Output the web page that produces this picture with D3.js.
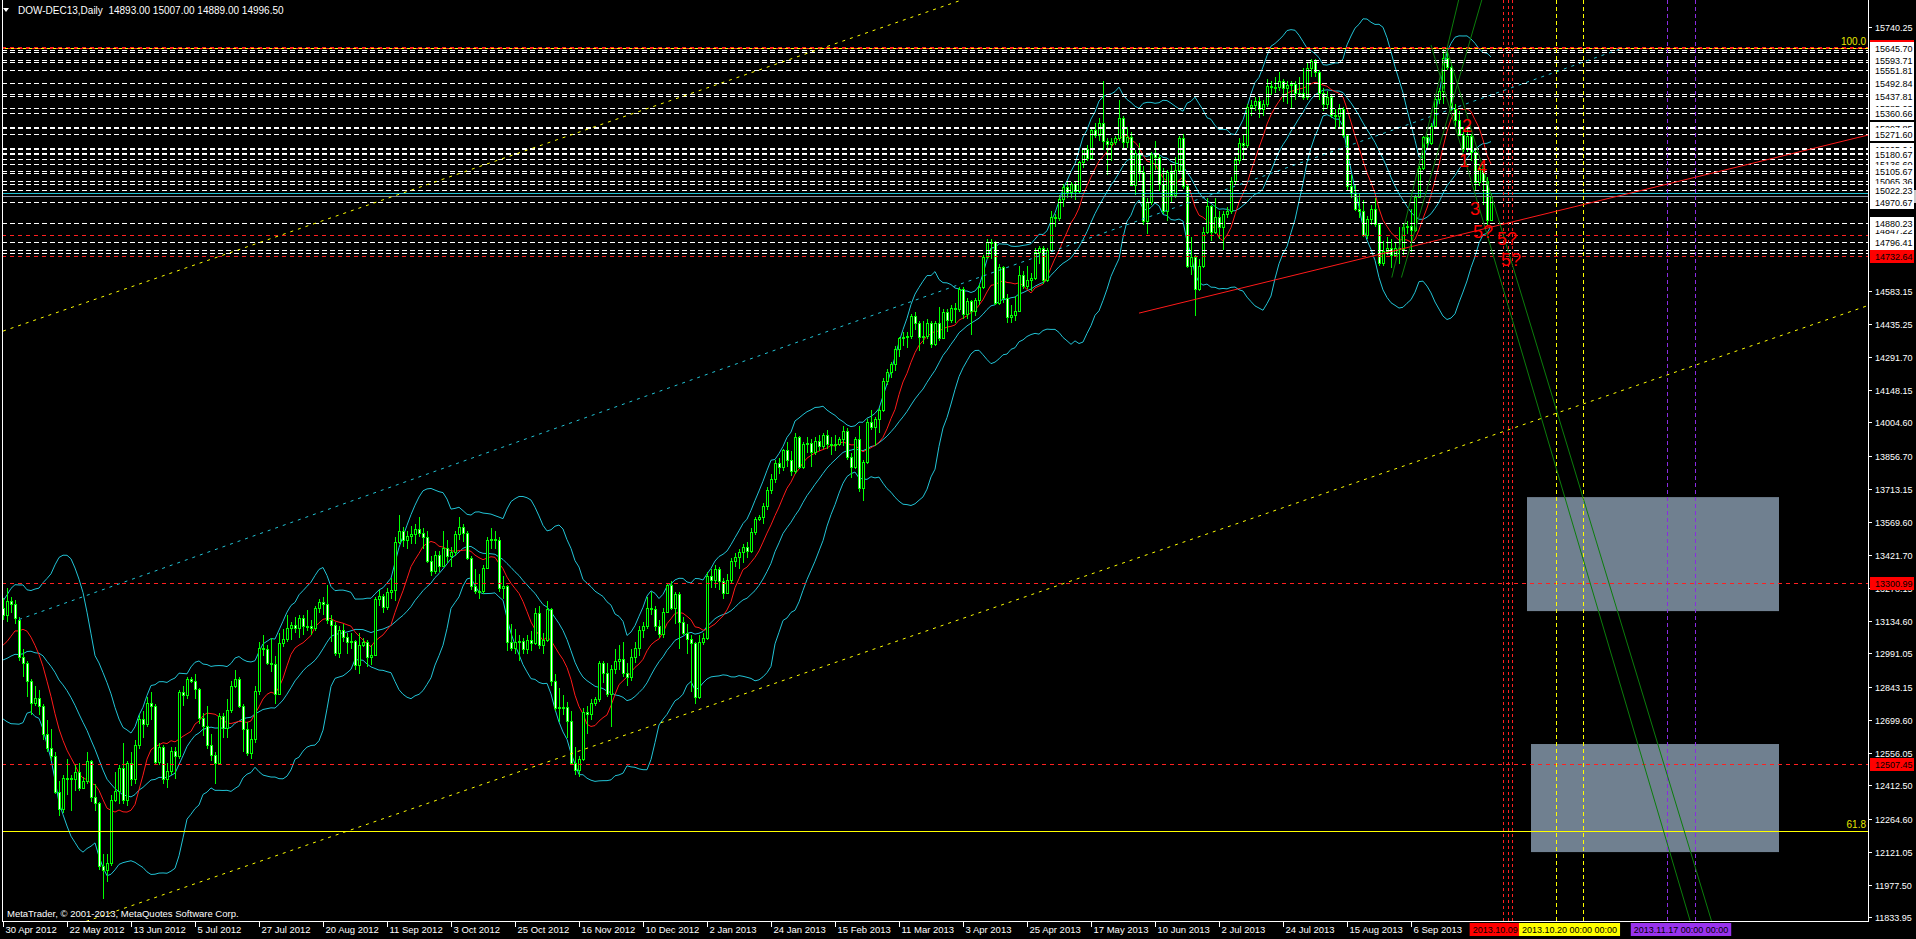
<!DOCTYPE html>
<html><head><meta charset="utf-8">
<script src="https://cdn.jsdelivr.net/npm/d3@7/dist/d3.min.js"></script>
<style>
html,body{margin:0;padding:0;background:#000;overflow:hidden}
svg{display:block}
text{font-family:"Liberation Sans",Arial,sans-serif}
</style></head><body>
<svg id="c" width="1916" height="939"></svg>
<script>
// ---------------- DATA ----------------
const headerText = "DOW-DEC13,Daily";
const lastBar = [14893.00, 15007.00, 14889.00, 14996.50];
const copyright = "MetaTrader, \u00A9 2001-2013, MetaQuotes Software Corp.";
const dateLabels = ["30 Apr 2012","22 May 2012","13 Jun 2012","5 Jul 2012","27 Jul 2012","20 Aug 2012","11 Sep 2012","3 Oct 2012","25 Oct 2012","16 Nov 2012","10 Dec 2012","2 Jan 2013","24 Jan 2013","15 Feb 2013","11 Mar 2013","3 Apr 2013","25 Apr 2013","17 May 2013","10 Jun 2013","2 Jul 2013","24 Jul 2013","15 Aug 2013","6 Sep 2013"];
const barsPerLabel = 16;
const yTicks = [15740.25,14583.15,14435.25,14291.70,14148.15,14004.60,13856.70,13713.15,13569.60,13421.70,13278.15,13134.60,12991.05,12843.15,12699.60,12556.05,12412.50,12264.60,12121.05,11977.50,11833.95];
// closes before the first visible bar (indicator warm-up)
const priorCloses = [13150,13080,13010,12990,13000,12880,12670,12750,12930,12800,12870,13060,12980,12910,12975,12880,12950,13040,13150,13170];
// daily bars [open, high, low, close]
const ohlc = [
[13190,13235,13140,13160],[13160,13280,13130,13220],[13220,13240,13170,13210],[13210,13225,13120,13145],[13140,13150,12960,12975],
[12975,13010,12890,12950],[12950,12960,12800,12870],[12870,12880,12720,12775],[12775,12850,12760,12795],[12795,12830,12720,12760],
[12760,12770,12610,12640],[12640,12700,12560,12575],[12575,12660,12520,12540],[12540,12560,12375,12385],[12385,12430,12280,12310],
[12310,12460,12290,12445],[12445,12530,12370,12445],[12445,12460,12300,12440],[12440,12500,12390,12470],[12470,12510,12390,12400],
[12400,12450,12395,12430],[12430,12560,12420,12520],[12520,12525,12340,12360],[12360,12420,12300,12335],[12335,12340,12040,12060],
[12060,12110,11915,12040],[12040,12110,11990,12070],[12070,12370,12060,12350],[12350,12470,12340,12390],[12390,12500,12330,12490],
[12490,12600,12330,12350],[12350,12520,12320,12510],[12510,12560,12410,12440],[12440,12610,12420,12590],[12590,12720,12570,12705],
[12705,12740,12620,12680],[12680,12800,12670,12775],[12775,12820,12700,12760],[12760,12770,12500,12515],[12515,12600,12500,12580],
[12580,12590,12420,12440],[12440,12510,12400,12475],[12475,12580,12460,12565],[12565,12580,12440,12540],[12540,12830,12530,12820],
[12820,12850,12760,12810],[12810,12890,12790,12880],[12880,12890,12860,12870],[12870,12900,12790,12835],[12835,12840,12680,12710],
[12710,12730,12630,12675],[12675,12760,12570,12590],[12590,12640,12520,12545],[12545,12560,12420,12510],[12510,12730,12500,12715],
[12715,12730,12620,12665],[12665,12790,12620,12745],[12745,12870,12730,12850],[12850,12920,12840,12880],[12880,12890,12750,12760],
[12760,12770,12560,12660],[12660,12690,12540,12555],[12555,12660,12530,12615],[12615,12850,12600,12825],[12825,13040,12810,13015],
[13015,13070,12980,13010],[13010,13030,12940,12950],[12950,13060,12910,12945],[12945,12980,12770,12815],[12815,13080,12810,13035],
[13035,13100,13020,13055],[13055,13160,13040,13105],[13105,13130,13050,13115],[13115,13150,13080,13105],[13105,13160,13060,13145],
[13145,13160,13070,13110],[13110,13180,13090,13110],[13110,13140,13070,13105],[13105,13200,13090,13190],[13190,13230,13170,13215],
[13215,13240,13160,13210],[13210,13290,13120,13140],[13140,13160,13040,13115],[13115,13130,12980,12995],[12995,13110,12970,13095],
[13095,13120,13040,13065],[13065,13080,12990,13040],[13040,13080,13010,13045],[13045,13050,12920,12940],[12940,13080,12900,13030],
[13030,13060,13020,13040],[13040,13050,12930,12975],[12975,13030,12940,12985],[12985,13240,12980,13230],[13230,13270,13200,13245],
[13245,13250,13170,13195],[13195,13280,13180,13260],[13260,13320,13230,13270],[13270,13500,13220,13480],[13480,13600,13470,13530],
[13530,13545,13460,13490],[13490,13530,13450,13505],[13505,13550,13470,13515],[13515,13560,13470,13535],[13535,13590,13500,13520],
[13520,13540,13450,13500],[13500,13530,13390,13395],[13395,13420,13330,13355],[13355,13440,13340,13425],[13425,13440,13350,13375],
[13375,13530,13370,13455],[13455,13490,13390,13420],[13420,13460,13370,13435],[13435,13530,13420,13515],[13515,13590,13490,13545],
[13545,13560,13480,13520],[13520,13530,13400,13410],[13410,13420,13270,13285],[13285,13360,13250,13265],[13265,13340,13230,13265],
[13265,13380,13250,13365],[13365,13500,13360,13490],[13490,13540,13450,13495],[13495,13530,13450,13490],[13490,13500,13260,13280],
[13280,13330,13230,13285],[13285,13290,13000,13040],[13040,13120,13000,13015],[13015,13100,12990,13040],[13040,13070,12960,13045],
[13045,13060,12990,13010],[13010,13070,12990,13050],[13050,13090,13000,13035],[13035,13190,13030,13170],[13170,13200,13010,13030],
[13030,13080,12990,13050],[13050,13220,13040,13185],[13185,13190,12850,12870],[12870,12900,12740,12750],[12750,12840,12690,12755],
[12755,12810,12720,12755],[12755,12780,12620,12695],[12695,12740,12500,12510],[12510,12580,12460,12480],[12480,12540,12450,12530],
[12530,12750,12520,12735],[12735,12760,12640,12725],[12725,12790,12700,12775],[12775,12800,12760,12790],[12790,12960,12780,12950],
[12950,12960,12860,12905],[12905,12950,12800,12815],[12815,12940,12670,12925],[12925,13010,12900,12960],[12960,13030,12920,12965],
[12965,13040,12890,12905],[12905,12950,12850,12890],[12890,13010,12870,12975],[12975,13040,12950,13015],[13015,13110,12980,13095],
[13095,13130,13060,13110],[13110,13240,13100,13190],[13190,13260,13160,13185],[13185,13200,13090,13110],[13110,13140,13060,13075],
[13075,13190,13060,13175],[13175,13300,13170,13290],[13290,13310,13180,13190],[13190,13260,13120,13250],[13250,13260,13010,13130],
[13130,13150,13070,13080],[13080,13120,12990,13055],[13055,13070,12820,13035],[13035,13040,12770,12800],[12800,13070,12790,13040],
[13040,13080,13030,13060],[13060,13350,13050,13330],[13330,13360,13280,13315],[13315,13380,13280,13360],[13360,13370,13270,13310],
[13310,13320,13230,13255],[13255,13340,13250,13315],[13315,13410,13300,13395],[13395,13430,13370,13415],[13415,13450,13360,13435],
[13435,13470,13390,13460],[13460,13480,13410,13440],[13440,13540,13430,13525],[13525,13590,13510,13580],[13580,13600,13570,13590],
[13590,13650,13560,13640],[13640,13720,13620,13710],[13710,13780,13690,13755],[13755,13840,13740,13825],[13825,13850,13780,13810],
[13810,13890,13790,13885],[13885,13920,13810,13840],[13840,13880,13770,13790],[13790,13960,13780,13940],[13940,13945,13800,13810],
[13810,13920,13800,13910],[13910,13940,13870,13915],[13915,13930,13810,13875],[13875,13940,13860,13925],[13925,13950,13880,13900],
[13900,13960,13890,13950],[13950,13970,13890,13910],[13910,13940,13860,13905],[13905,13950,13880,13910],[13910,13940,13900,13930],
[13930,13990,13900,13965],[13965,13980,13840,13855],[13855,13870,13760,13810],[13810,13940,13800,13930],[13930,13990,13700,13715],
[13715,13840,13660,13830],[13830,14020,13820,14005],[14005,14060,13970,13985],[13985,14030,13900,14020],[14020,14070,13960,14060],
[14060,14200,14050,14185],[14185,14240,14170,14225],[14225,14270,14200,14260],[14260,14340,14230,14325],[14325,14380,14290,14375],
[14375,14400,14340,14380],[14380,14400,14330,14385],[14385,14480,14370,14470],[14470,14490,14410,14440],[14440,14450,14320,14380],
[14380,14450,14350,14385],[14385,14460,14370,14440],[14440,14450,14330,14350],[14350,14450,14340,14440],[14440,14510,14360,14375],
[14375,14500,14370,14490],[14490,14500,14400,14455],[14455,14520,14440,14505],[14505,14530,14440,14500],[14500,14600,14490,14590],
[14590,14600,14460,14480],[14480,14550,14460,14535],[14535,14540,14390,14495],[14495,14550,14470,14540],[14540,14610,14520,14600],
[14600,14740,14590,14730],[14730,14810,14720,14795],[14795,14810,14720,14795],[14795,14800,14520,14530],[14530,14700,14520,14685],
[14685,14690,14530,14550],[14550,14570,14440,14465],[14465,14520,14440,14475],[14475,14560,14450,14495],[14495,14690,14490,14650],
[14650,14670,14590,14605],[14605,14690,14590,14630],[14630,14660,14580,14640],[14640,14770,14630,14750],[14750,14780,14700,14770],
[14770,14780,14610,14630],[14630,14770,14620,14760],[14760,14930,14750,14905],[14905,14920,14860,14900],[14900,15000,14890,14985],
[14985,15050,14950,15035],[15035,15060,14990,15015],[15015,15060,14990,15050],[15050,15060,14980,15020],[15020,15150,15010,15145],
[15145,15210,15120,15205],[15205,15220,15150,15165],[15165,15290,15160,15285],[15285,15320,15250,15265],[15265,15340,15240,15320],
[15320,15500,15200,15240],[15240,15250,15090,15225],[15225,15250,15150,15235],[15235,15260,15220,15250],[15250,15420,15240,15340],
[15340,15350,15200,15235],[15235,15300,15210,15255],[15255,15280,15040,15045],[15045,15200,15000,15185],[15185,15230,15060,15105],
[15105,15130,14870,14890],[14890,14990,14830,14970],[14970,15190,14960,15180],[15180,15240,15110,15170],[15170,15180,15020,15050],
[15050,15120,14920,14930],[14930,15110,14890,15105],[15105,15140,14970,15000],[15000,15170,14990,15110],[15110,15260,15100,15250],
[15250,15270,15030,15040],[15040,15050,14680,14690],[14690,14820,14650,14730],[14730,14740,14470,14590],[14590,14720,14580,14690],
[14690,14860,14680,14840],[14840,14990,14830,14955],[14955,14960,14800,14840],[14840,14990,14830,14905],[14905,14930,14810,14860],
[14860,14930,14760,14920],[14920,14950,14900,14930],[14930,15080,14920,15065],[15065,15170,15050,15155],[15155,15250,15140,15230],
[15230,15270,15160,15220],[15220,15400,15210,15390],[15390,15420,15350,15395],[15395,15430,15370,15415],[15415,15430,15340,15380],
[15380,15420,15350,15400],[15400,15510,15390,15480],[15480,15500,15440,15475],[15475,15520,15450,15475],[15475,15540,15460,15500],
[15500,15510,15410,15470],[15470,15500,15400,15485],[15485,15500,15380,15490],[15490,15500,15420,15450],[15450,15520,15430,15450],
[15450,15560,15420,15430],[15430,15580,15420,15560],[15560,15600,15520,15590],[15590,15600,15520,15540],[15540,15550,15420,15450],
[15450,15470,15370,15400],[15400,15460,15380,15430],[15430,15440,15340,15355],[15355,15380,15290,15350],[15350,15400,15290,15380],
[15380,15390,15250,15265],[15265,15270,15020,15040],[15040,15090,14990,15010],[15010,15050,14930,14940],[14940,15010,14900,14930],
[14930,14980,14820,14825],[14825,14910,14810,14895],[14895,14960,14870,14940],[14940,14990,14860,14875],[14875,14880,14690,14705],
[14705,14800,14690,14755],[14755,14820,14740,14770],[14770,14810,14680,14740],[14740,14790,14730,14770],[14770,14860,14700,14765],
[14765,14880,14740,14860],[14860,14890,14830,14865],[14865,14940,14750,14850],[14850,15000,14840,14995],[14995,15130,14990,15120],
[15120,15260,15110,15255],[15255,15270,15200,15230],[15230,15320,15220,15305],[15305,15440,15300,15425],[15425,15470,15400,15460],
[15460,15645,15400,15605],[15605,15630,15550,15565],[15565,15580,15370,15380],[15380,15400,15300,15330],[15330,15370,15260,15265],
[15265,15300,15190,15205],[15205,15290,15190,15260],[15260,15270,15150,15190],[15190,15200,15020,15060],[15060,15140,15040,15120],
[15120,15140,14960,15065],[15065,15080,14870,14893],[14893,15007,14889,14996.5]
];
// horizontal levels
const whiteLevels = [15636,15631,15593.71,15585,15551.81,15492.84,15445,15437.81,15385.03,15360.66,15302,15297.85,15271.60,15210,15205.04,15185,15180.67,15160,15136.60,15105.67,15098,15065.36,15050,15022.23,14970.67,14880.23,14796.41,14760,14748.85];
const redLevels = [15650,14825,14732.64,13300.99,12507.45];
const cyanLevel = 15010;
const bidLevel = 14996.50;
const fibLevels = [15645.70, 12212.6];
const fibNames = ["100.0", "61.8"];
// axis price labels of the lines: [value, colour key]
const hiddenLabels = [[15655.00,"r"],[15593.71,"w"],[15385.03,"w"],[15297.85,"w"],[15205.04,"w"],[14996.50,"g"],[14847.22,"w"],[14748.85,"w"]];
const shownLabels = [[15645.70,"w"],[15551.81,"w"],[15492.84,"w"],[15437.81,"w"],[15360.66,"w"],[15271.60,"w"],[15180.67,"w"],[15136.60,"w"],[15105.67,"w"],[15065.36,"w"],[15022.23,"w"],[14970.67,"w"],[14880.23,"w"],[14796.41,"w"],[14732.64,"r"],[13300.99,"r"],[12507.45,"r"]];
// vertical lines (bar index, future bars included)
const redVLines = [375.1, 376.2, 377.2];
const yellowVLines = [388.25, 395];
const purpleVLines = [416, 423];
const timeBoxes = [["2013.10.09 00:00","r"],["2013.10.20 00:00  00:00","y"],["2013.11.17 00:00  00:00","p"]];
// rectangles [i0, i1, priceTop, priceBottom]
const zones = [[381, 444, 13677, 13177],[382, 444, 12594, 12120]];
// trend lines [[i,p],[i,p]]
const yellowChannel = [[[0,11690],[470,14540]], [[0,14405],[250,15920]]];
const cyanChannel = [[4,13140],[405,15647]];
const redTrend = [[284,14484],[466.25,15265]];
const greenLines = [[[357,15660],[480,8366]], [[361,15640],[480,8762]], [[347.2,14640],[364.5,15900]], [[349.6,14640],[370.4,15900]]];
// wave labels [text, i, price at baseline]
const waveLabels = [["2",364.75,15278],["1",364,15125],["4",368.5,15099],["3",366.75,14914],["5?",367.5,14813],["5?",373.5,14783],["5?",374.5,14691]];

// ---------------- CHART ----------------
const W = 1916, H = 939;
const plotL = 2, plotR = 1868, plotB = 921;
const x = d3.scaleLinear().domain([0, 466.25]).range([3, plotR]);
const y = d3.scaleLinear().domain([11833.95, 15740.25]).range([917.3, 26.7]);

const svg = d3.select("#c");
svg.append("rect").attr("width", W).attr("height", H).attr("fill", "#000");
svg.append("defs").append("clipPath").attr("id", "clip")
  .append("rect").attr("x", plotL).attr("y", 0).attr("width", plotR - plotL).attr("height", plotB);
const g = svg.append("g").attr("clip-path", "url(#clip)");

// zones
g.selectAll(".zone").data(zones).join("rect")
  .attr("x", d => x(d[0])).attr("width", d => x(d[1]) - x(d[0]))
  .attr("y", d => y(d[2])).attr("height", d => y(d[3]) - y(d[2]))
  .attr("fill", "#708090");

// indicators
const closes = ohlc.map(d => d[3]);
const all = priorCloses.concat(closes);
const off = priorCloses.length;
function sma(n, idx) { let s = 0; for (let k = idx - n + 1; k <= idx; k++) s += all[k]; return s / n; }
function sd(n, idx, m) { let s = 0; for (let k = idx - n + 1; k <= idx; k++) s += (all[k] - m) ** 2; return Math.sqrt(s / n); }
const bb = closes.map((c, i) => { const m = sma(20, i + off); const s = sd(20, i + off, m); return { i, m, u: m + 2 * s, l: m - 2 * s, r: sma(10, i + off) }; });
const ln = key => d3.line().x(d => x(d.i)).y(d => y(d[key]));
["u", "m", "l"].forEach(k => g.append("path").datum(bb).attr("d", ln(k)).attr("fill", "none").attr("stroke", "#22c4d6").attr("stroke-width", 1));
g.append("path").datum(bb).attr("d", ln("r")).attr("fill", "none").attr("stroke", "#ff1a1a").attr("stroke-width", 1);

// candles
const cg = g.append("g").attr("shape-rendering", "crispEdges");
ohlc.forEach((d, i) => {
  const px = Math.round(x(i));
  const [o, h, l, c] = d;
  cg.append("rect").attr("x", px).attr("width", 1).attr("y", Math.round(y(h))).attr("height", Math.max(1, Math.round(y(l)) - Math.round(y(h)))).attr("fill", "#00ff00");
  const top = Math.round(y(Math.max(o, c))), bot = Math.round(y(Math.min(o, c)));
  const hgt = Math.max(1, bot - top);
  cg.append("rect").attr("x", px - 1).attr("width", 3).attr("y", top).attr("height", hgt + 1).attr("fill", "#00ff00");
  if (hgt > 1) cg.append("rect").attr("x", px).attr("width", 1).attr("y", top + 1).attr("height", hgt - 1).attr("fill", c >= o ? "#000" : "#fff");
});

// horizontal levels
function hline(v, color, dash, w) {
  const yy = Math.round(y(v)) + 0.5;
  return g.append("line").attr("x1", plotL).attr("x2", plotR).attr("y1", yy).attr("y2", yy)
    .attr("stroke", color).attr("stroke-width", w || 1).attr("stroke-dasharray", dash || null);
}
whiteLevels.forEach(v => hline(v, "#ffffff", "5,3"));
redLevels.forEach(v => hline(v, "#ff2020", "4,4"));
hline(cyanLevel, "#22c4d6");
hline(bidLevel, "#8795a8");
hline(fibLevels[0], "#ff2020", "3,3");
hline(fibLevels[0], "#ffff00", "3,3").attr("stroke-dashoffset", 3);
hline(fibLevels[1], "#ffff00");

// vertical lines
function vline(i, color, dash) {
  const xx = Math.round(x(i)) + 0.5;
  g.append("line").attr("x1", xx).attr("x2", xx).attr("y1", 0).attr("y2", plotB).attr("stroke", color).attr("stroke-dasharray", dash);
}
redVLines.forEach(i => vline(i, "#ff2020", "3,3"));
yellowVLines.forEach(i => vline(i, "#ffff00", "4,3"));
purpleVLines.forEach(i => vline(i, "#8a2be2", "4,3"));

// trend lines
function tline(seg, color, dash) {
  g.append("line").attr("x1", x(seg[0][0])).attr("y1", y(seg[0][1])).attr("x2", x(seg[1][0])).attr("y2", y(seg[1][1]))
    .attr("stroke", color).attr("stroke-width", 1).attr("stroke-dasharray", dash || null);
}
yellowChannel.forEach(s => tline(s, "#ffff00", "3,5"));
tline(cyanChannel, "#22c4d6", "3,5");
tline(redTrend, "#ff1a1a");
greenLines.forEach(s => tline(s, "#0b7d0b"));

// fib texts
fibLevels.forEach((v, k) => g.append("text").attr("x", plotR - 2).attr("y", y(v) - 3).attr("text-anchor", "end")
  .attr("font-size", 10).attr("fill", "#e6e600").text(fibNames[k]));

// wave labels
waveLabels.forEach(d => g.append("text").attr("x", x(d[1])).attr("y", y(d[2])).attr("font-size", 18)
  .attr("fill", "#ff0000").text(d[0]));

// copyright
svg.append("text").attr("x", 7).attr("y", 917).attr("font-size", 9.5).attr("fill", "#ffffff").text(copyright);

// frame & axes
const ax = svg.append("g").attr("shape-rendering", "crispEdges");
ax.append("line").attr("x1", plotL + 0.5).attr("x2", plotL + 0.5).attr("y1", 0).attr("y2", plotB).attr("stroke", "#fff");
ax.append("line").attr("x1", plotR + 0.5).attr("x2", plotR + 0.5).attr("y1", 0).attr("y2", plotB + 1).attr("stroke", "#fff");
ax.append("line").attr("x1", plotL).attr("x2", plotR + 1).attr("y1", plotB + 0.5).attr("y2", plotB + 0.5).attr("stroke", "#fff");

// y ticks
yTicks.forEach(v => {
  const yy = Math.round(y(v)) + 0.5;
  ax.append("line").attr("x1", plotR).attr("x2", plotR + 4).attr("y1", yy).attr("y2", yy).attr("stroke", "#fff");
  svg.append("text").attr("x", plotR + 7).attr("y", yy + 3.5).attr("font-size", 9).attr("fill", "#fff").text(d3.format(".2f")(v));
});

// price labels of lines
const labelFill = { w: "#ffffff", r: "#ff0000", g: "#c8c8c8" };
function priceLabel(d) {
  const yy = Math.round(y(d[0]));
  svg.append("rect").attr("x", plotR + 2).attr("y", yy - 6).attr("width", d[1] === "g" ? 48 : 44).attr("height", 13).attr("fill", labelFill[d[1]]);
  svg.append("text").attr("x", plotR + 7).attr("y", yy + 4).attr("font-size", 9).attr("fill", "#000").text(d3.format(".2f")(d[0]));
}
hiddenLabels.forEach(priceLabel);
shownLabels.forEach(priceLabel);

// x ticks
dateLabels.forEach((t, k) => {
  const xx = Math.round(x(k * barsPerLabel)) + 0.5;
  ax.append("line").attr("x1", xx).attr("x2", xx).attr("y1", plotB).attr("y2", plotB + 6).attr("stroke", "#fff");
  svg.append("text").attr("x", xx + 2).attr("y", 933).attr("font-size", 9.5).attr("fill", "#fff").text(t);
});

// time labels of vertical lines
const boxFill = { r: "#ff0000", y: "#ffff00", p: "#9933ee" };
const boxCentre = [d3.mean(redVLines), d3.mean(yellowVLines), d3.mean(purpleVLines)];
timeBoxes.forEach((d, k) => {
  const t = svg.append("text").attr("font-size", 9).attr("fill", "#000").text(d[0]);
  const w = t.node().getComputedTextLength() + 6;
  const cx = x(boxCentre[k]);
  svg.insert("rect", () => t.node()).attr("x", cx - w / 2).attr("y", 923).attr("width", w).attr("height", 13).attr("fill", boxFill[d[1]]);
  t.attr("x", cx - w / 2 + 3).attr("y", 933);
});

// header
svg.append("path").attr("d", "M3,8 L9,8 L6,12 Z").attr("fill", "#fff");
svg.append("text").attr("x", 18).attr("y", 14).attr("font-size", 10).attr("fill", "#fff").attr("xml:space", "preserve")
  .text(headerText + "  " + lastBar.map(v => v.toFixed(2)).join(" "));
</script>
</body></html>
